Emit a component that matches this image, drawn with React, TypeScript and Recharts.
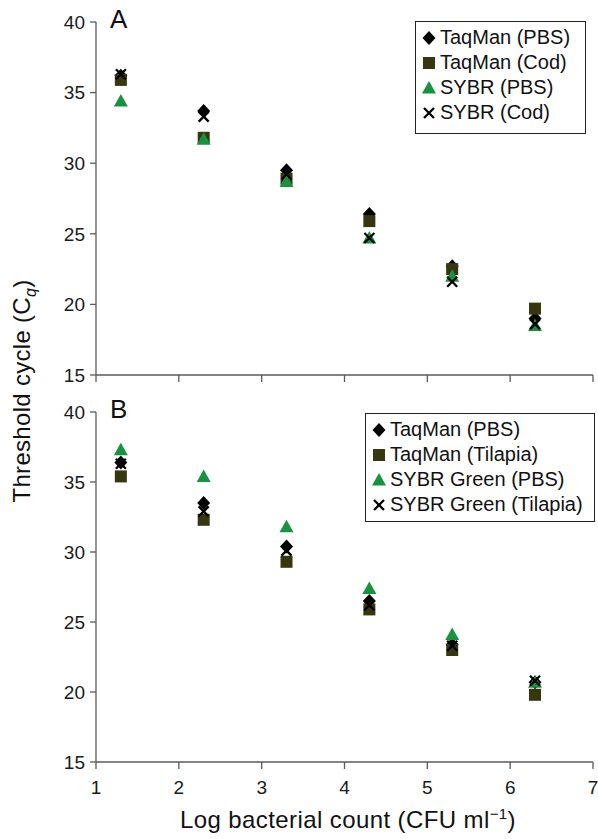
import React from 'react';
import { ScatterChart, Scatter, XAxis, YAxis } from 'recharts';

const xValues = [1.3, 2.3, 3.3, 4.3, 5.3, 6.3];
const xTicks = [1, 2, 3, 4, 5, 6, 7];
const yTicks = [15, 20, 25, 30, 35, 40];

// panel A
const taqmanPbsA = [36.2, 33.7, 29.5, 26.4, 22.7, 19.0];
const taqmanCodA = [35.9, 31.8, 28.9, 25.9, 22.5, 19.7];
const sybrPbsA = [34.4, 31.7, 28.7, 24.7, 22.0, 18.5];
const sybrCodA = [36.3, 33.3, 29.2, 24.7, 21.6, 18.6];

// panel B
const taqmanPbsB = [36.4, 33.5, 30.4, 26.5, 23.4, 20.7];
const taqmanTilB = [35.4, 32.3, 29.3, 25.9, 23.0, 19.8];
const sybrPbsB = [37.3, 35.4, 31.8, 27.4, 24.1, 20.7];
const sybrTilB = [36.3, 32.9, 30.1, 26.2, 23.3, 20.8];

const legendA = ['TaqMan (PBS)', 'TaqMan (Cod)', 'SYBR (PBS)', 'SYBR (Cod)'];
const legendB = ['TaqMan (PBS)', 'TaqMan (Tilapia)', 'SYBR Green (PBS)', 'SYBR Green (Tilapia)'];

const FONT = '"Liberation Sans", Arial, Helvetica, sans-serif';
const AXIS = '#5a5a5a';
const SQUARE = '#36360f';
const GREEN = '#17923f';

const toPoints = (ys: number[]) => xValues.map((x, i) => ({ x, y: ys[i] }));

const Diamond = (p: any) => (
  <path d={`M${p.cx},${p.cy - 7}L${p.cx + 6.5},${p.cy}L${p.cx},${p.cy + 7}L${p.cx - 6.5},${p.cy}Z`} fill="#000" />
);
const Square = (p: any) => <rect x={p.cx - 6} y={p.cy - 6} width={12} height={12} fill={SQUARE} />;
const Triangle = (p: any) => (
  <path d={`M${p.cx},${p.cy - 7}L${p.cx + 7},${p.cy + 5.5}L${p.cx - 7},${p.cy + 5.5}Z`} fill={GREEN} />
);
const Cross = (p: any) => (
  <g stroke="#000" strokeWidth={2.3}>
    <line x1={p.cx - 5} y1={p.cy - 5} x2={p.cx + 5} y2={p.cy + 5} />
    <line x1={p.cx - 5} y1={p.cy + 5} x2={p.cx + 5} y2={p.cy - 5} />
  </g>
);
const shapes = [Diamond, Square, Triangle, Cross];

const tickStyle = { fill: '#1a1a1a', fontSize: 19, fontFamily: FONT };

function Panel({ series, height, margin, showXLabels, xHeight }: any) {
  return (
    <ScatterChart width={598} height={height} margin={margin}>
      <XAxis
        type="number"
        dataKey="x"
        domain={[1, 7]}
        ticks={xTicks}
        interval={0}
        allowDataOverflow
        stroke={AXIS}
        strokeWidth={1.3}
        tickSize={7}
        tickMargin={12}
        height={xHeight}
        tick={tickStyle}
        tickFormatter={showXLabels ? (v: number) => String(v) : () => ''}
      />
      <YAxis
        type="number"
        dataKey="y"
        domain={[15, 40]}
        ticks={yTicks}
        interval={0}
        allowDataOverflow
        stroke={AXIS}
        strokeWidth={1.3}
        tickSize={6}
        tickMargin={5}
        width={96}
        tick={tickStyle}
      />
      {series.map((s: number[], i: number) => (
        <Scatter key={i} data={toPoints(s)} shape={shapes[i]} isAnimationActive={false} />
      ))}
    </ScatterChart>
  );
}

function LegendBox({ labels, style }: any) {
  return (
    <div
      style={{
        position: 'absolute',
        border: '1.5px solid #222',
        background: '#fff',
        padding: '3px 4px 4px 5px',
        fontFamily: FONT,
        fontSize: 20,
        color: '#111',
        lineHeight: '25px',
        boxSizing: 'border-box',
        ...style,
      }}
    >
      {labels.map((l: string, i: number) => {
        const Shape = shapes[i];
        return (
          <div key={l} style={{ display: 'flex', alignItems: 'center', whiteSpace: 'nowrap' }}>
            <svg width={16} height={16} style={{ marginRight: 3 }}>
              <Shape cx={8} cy={8} />
            </svg>
            {l}
          </div>
        );
      })}
    </div>
  );
}

export default function App() {
  return (
    <div style={{ position: 'absolute', left: 0, top: 0, width: 598, height: 839, background: '#fff', fontFamily: FONT, overflow: 'hidden' }}>
      <div style={{ position: 'absolute', left: 0, top: 0 }}>
        <Panel
          series={[taqmanPbsA, taqmanCodA, sybrPbsA, sybrCodA]}
          height={390}
          margin={{ top: 22, right: 5, bottom: 5, left: 0 }}
          xHeight={10}
          showXLabels={false}
        />
      </div>
      <div style={{ position: 'absolute', left: 0, top: 390 }}>
        <Panel
          series={[taqmanPbsB, taqmanTilB, sybrPbsB, sybrTilB]}
          height={449}
          margin={{ top: 22, right: 5, bottom: 42, left: 0 }}
          xHeight={35}
          showXLabels
        />
      </div>
      <div style={{ position: 'absolute', left: 110, top: 4, fontSize: 26, color: '#111' }}>A</div>
      <div style={{ position: 'absolute', left: 110, top: 394, fontSize: 26, color: '#111' }}>B</div>
      <LegendBox labels={legendA} style={{ left: 415, top: 21, width: 171, height: 113 }} />
      <LegendBox labels={legendB} style={{ left: 365, top: 413, width: 230, height: 109 }} />
      <div
        style={{
          position: 'absolute',
          left: 22 - 200,
          top: 391 - 15,
          width: 400,
          height: 30,
          lineHeight: '30px',
          textAlign: 'center',
          fontSize: 24,
          letterSpacing: 0.3,
          color: '#111',
          transform: 'rotate(-90deg)',
          whiteSpace: 'nowrap',
        }}
      >
        Threshold cycle (C<sub style={{ fontStyle: 'italic', fontSize: 16, lineHeight: 0 }}>q</sub>)
      </div>
      <div
        style={{
          position: 'absolute',
          left: 348 - 300,
          top: 805,
          width: 600,
          textAlign: 'center',
          fontSize: 24,
          letterSpacing: 0.4,
          lineHeight: '30px',
          color: '#111',
          whiteSpace: 'nowrap',
        }}
      >
        Log bacterial count (CFU ml<sup style={{ fontSize: 15, lineHeight: 0 }}>−1</sup>)
      </div>
    </div>
  );
}
